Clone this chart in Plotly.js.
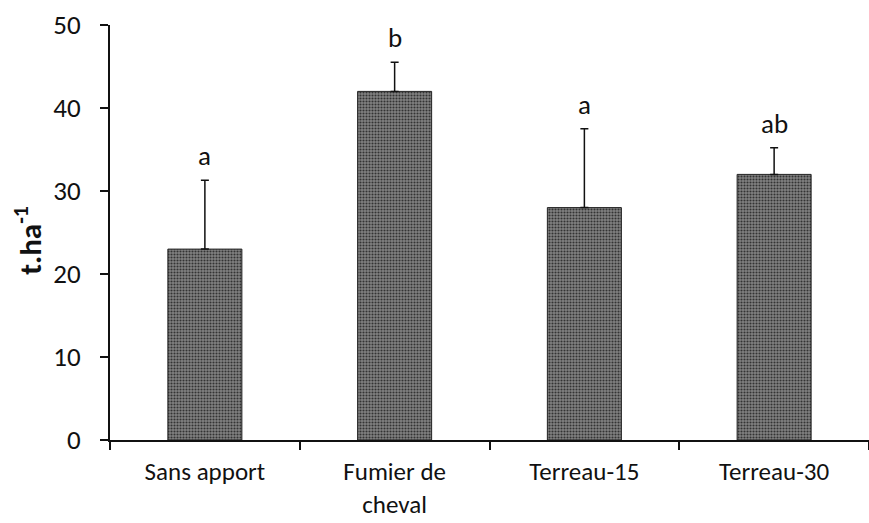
<!DOCTYPE html>
<html>
<head>
<meta charset="utf-8">
<script src="https://cdn.plot.ly/plotly-3.0.1.min.js"></script>
<style>html,body{margin:0;padding:0;background:#fff;}#chart{width:869px;height:523px;}</style>
</head>
<body>
<div id="chart"></div>
<script>
const categories = ["Sans apport", "Fumier de<br>cheval", "Terreau-15", "Terreau-30"];
const values = [23, 42, 28, 32];
const errorsPlus = [8.3, 3.5, 9.5, 3.2];
const letters = ["a", "b", "a", "ab"];
const yTicks = [0, 10, 20, 30, 40, 50];

const font = "Carlito, Lato, 'Open Sans', 'DejaVu Sans', sans-serif";

const trace = {
  type: "bar",
  x: categories,
  y: values,
  marker: {
    color: "#747474",
    line: {color: "#222", width: 1},
    pattern: {shape: ".", fgcolor: "#333333", bgcolor: "#828282", size: 3, solidity: 0.4}
  },
  error_y: {
    type: "data",
    symmetric: false,
    array: errorsPlus,
    arrayminus: values.map(() => 0),
    color: "#111",
    thickness: 1.5,
    width: 4
  },
  hoverinfo: "skip"
};

const annotations = letters.map((t, i) => ({
  x: categories[i],
  y: values[i] + errorsPlus[i],
  xref: "x", yref: "y",
  text: t,
  showarrow: false,
  yanchor: "bottom",
  yshift: 6,
  font: {family: font, size: 27, color: "#111"}
}));
annotations.push({
  xref: "paper", yref: "paper",
  x: -0.108, y: 0.48,
  text: "<b>t.ha<sup>-1</sup></b>",
  textangle: -90,
  showarrow: false,
  xanchor: "center", yanchor: "middle",
  font: {family: font, size: 31, color: "#111"}
});

const layout = {
  width: 869, height: 523,
  margin: {l: 110, r: 0, t: 25, b: 83},
  paper_bgcolor: "#fff", plot_bgcolor: "#fff",
  showlegend: false,
  bargap: 0.61,
  xaxis: {
    type: "category",
    range: [-0.5, 3.5],
    showline: true, linecolor: "#111", linewidth: 2,
    ticks: "outside", tickson: "boundaries", ticklen: 8, tickwidth: 2, tickcolor: "#111",
    showgrid: false, zeroline: false,
    tickfont: {family: font, size: 25, color: "#111"},
    ticklabelstandoff: 8
  },
  yaxis: {
    range: [0, 50],
    tickvals: yTicks,
    showline: true, linecolor: "#111", linewidth: 2,
    ticks: "outside", ticklen: 8, tickwidth: 2, tickcolor: "#111",
    showgrid: false, zeroline: false,
    tickfont: {family: font, size: 27, color: "#111"},
    ticklabelstandoff: 14
  },
  annotations: annotations
};

Plotly.newPlot("chart", [trace], layout, {displayModeBar: false, staticPlot: true});
</script>
</body>
</html>
